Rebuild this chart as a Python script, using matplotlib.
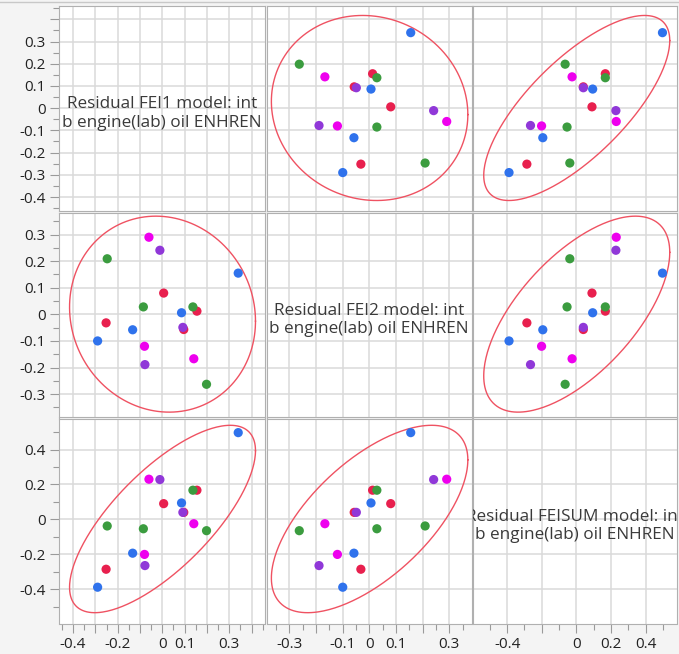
import numpy as np
import matplotlib
matplotlib.use("Agg")
import matplotlib.pyplot as plt

plt.rcParams['font.family'] = ['Open Sans', 'DejaVu Sans']
plt.rcParams['axes.unicode_minus'] = False

# residuals for the three responses, one entry per run
fei1 = [0.340, 0.198, 0.141, 0.155, 0.137, 0.096, 0.092, 0.086, 0.006,
        -0.011, -0.060, -0.078, -0.080, -0.085, -0.133, -0.252, -0.290, -0.247]
fei2 = [0.155, -0.263, -0.167, 0.012, 0.028, -0.057, -0.049, 0.006, 0.080,
        0.241, 0.290, -0.189, -0.120, 0.028, -0.058, -0.032, -0.100, 0.209]
feisum = [0.497, -0.065, -0.025, 0.167, 0.167, 0.040, 0.040, 0.094, 0.090,
          0.228, 0.230, -0.265, -0.201, -0.054, -0.194, -0.286, -0.389, -0.038]
groups = ['blue', 'green', 'magenta', 'red', 'green', 'red', 'purple', 'blue', 'red',
          'purple', 'magenta', 'purple', 'magenta', 'green', 'blue', 'red', 'blue', 'green']

names = ['FEI1', 'FEI2', 'FEISUM']
suffix = ' model: int\nb engine(lab) oil ENHREN'

palette = {'blue': '#2f72ec', 'green': '#3b9c3f', 'magenta': '#ee00ee',
           'red': '#e8204e', 'purple': '#9038d8'}

limits = [(-0.463, 0.460), (-0.386, 0.383), (-0.597, 0.578)]
grid_ticks = [np.round(np.arange(-0.4, 0.41, 0.1), 2),
              np.round(np.arange(-0.3, 0.31, 0.1), 2),
              np.round(np.arange(-0.4, 0.41, 0.2), 2)]
minor_ticks = [np.round(np.arange(-0.45, 0.46, 0.05), 2),
               np.round(np.arange(-0.35, 0.36, 0.05), 2),
               np.round(np.arange(-0.5, 0.51, 0.1), 2)]
x_labels = [['-0.4', '', '-0.2', '', '0', '0.1', '', '0.3', ''],
            ['-0.3', '', '-0.1', '0', '0.1', '', '0.3'],
            ['-0.4', '', '0', '0.2', '0.4']]
y_labels = [['-0.4', '-0.3', '-0.2', '-0.1', '0', '0.1', '0.2', '0.3', ''],
            ['-0.3', '-0.2', '-0.1', '0', '0.1', '0.2', '0.3'],
            ['-0.4', '-0.2', '0', '0.2', '0.4']]

data = [np.array(fei1), np.array(fei2), np.array(feisum)]
colors = [palette[g] for g in groups]

W, H = 679, 654
fig = plt.figure(figsize=(W / 100, H / 100), dpi=100, facecolor='#f4f4f4')

# thin strip along the top edge
fig.add_artist(plt.Line2D([0, 1], [1 - 2 / H, 1 - 2 / H], color='#c8c8c8', lw=1))

col_px = [(59, 265), (266.5, 471.5), (473, 676.5)]
row_px = [(6, 211), (212.5, 417), (418.5, 623.5)]

chi = np.sqrt(-2 * np.log(0.05))
t = np.linspace(0, 2 * np.pi, 300)

for r in range(3):
    for c in range(3):
        x0, x1 = col_px[c]
        y0, y1 = row_px[r]
        ax = fig.add_axes([x0 / W, 1 - y1 / H, (x1 - x0) / W, (y1 - y0) / H])
        ax.set_facecolor('white')
        ax.set_xlim(limits[c])
        ax.set_ylim(limits[r])
        for s in ax.spines.values():
            s.set_color('#b0b0b0')
            s.set_linewidth(0.8)

        ax.set_xticks(grid_ticks[c])
        ax.set_yticks(grid_ticks[r])
        ax.set_xticks(minor_ticks[c], minor=True)
        ax.set_yticks(minor_ticks[r], minor=True)
        ax.grid(True, which='major', color='#dadada', lw=1.1)
        ax.set_axisbelow(True)

        show_y = c == 0
        show_x = r == 2
        ax.set_yticklabels(y_labels[r] if show_y else [])
        ax.set_xticklabels(x_labels[c] if show_x else [])
        ax.tick_params(axis='y', which='both', left=show_y, color='#9a9a9a',
                       labelsize=11, labelcolor='#222222', pad=3)
        ax.tick_params(axis='x', which='both', bottom=show_x, color='#9a9a9a',
                       labelsize=11, labelcolor='#222222', pad=3)
        ax.tick_params(which='major', length=6.5, width=0.8)
        ax.tick_params(which='minor', length=4, width=0.8)

        if r == c:
            ax.text(0.5, 0.475, 'Residual ' + names[r] + suffix, transform=ax.transAxes,
                    ha='center', va='center', fontsize=12.3, color='#3a3a3a',
                    linespacing=1.2, clip_on=True)
            continue

        xs, ys = data[c], data[r]
        ax.scatter(xs, ys, s=44, c=colors, edgecolors='none', zorder=3)

        # 95% bivariate normal density ellipse
        cov = np.cov(xs, ys)
        L = np.linalg.cholesky(cov)
        circle = np.vstack([np.cos(t), np.sin(t)]) * chi
        ex, ey = L @ circle
        ax.plot(xs.mean() + ex, ys.mean() + ey, color='#ef5262', lw=1.0, zorder=2)

fig.savefig('out.png', dpi=100, facecolor=fig.get_facecolor())
